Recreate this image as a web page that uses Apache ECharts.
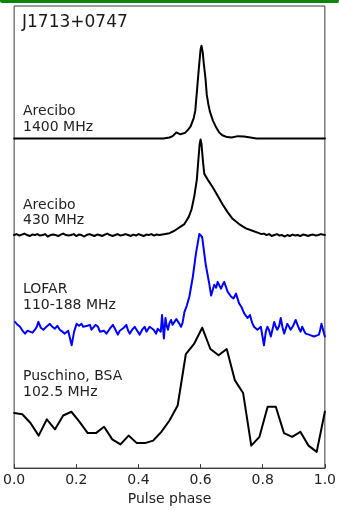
<!DOCTYPE html>
<html>
<head>
<meta charset="utf-8">
<script src="https://cdn.jsdelivr.net/npm/echarts@6/dist/echarts.min.js"></script>
<style>
  html, body { margin: 0; padding: 0; background: #ffffff; }
  #chart { width: 339px; height: 511px; }
</style>
</head>
<body>
<div id="chart"></div>
<script>
// Pulse profiles of PSR J1713+0747 at four frequencies.
// Each profile: [pulse phase, relative intensity (peak = 1)].

const xTicks = [0.0, 0.2, 0.4, 0.6, 0.8, 1.0];

const arecibo1400 = [
  [0.00, 0.00], [0.10, 0.00], [0.20, 0.00], [0.30, 0.00], [0.40, 0.00], [0.48, 0.00],
  [0.50, 0.01], [0.51, 0.025], [0.522, 0.065], [0.535, 0.045], [0.55, 0.06], [0.56, 0.095],
  [0.568, 0.13], [0.578, 0.22], [0.583, 0.30], [0.59, 0.58], [0.595, 0.78], [0.60, 0.96],
  [0.603, 1.00], [0.607, 0.93], [0.61, 0.82], [0.616, 0.64], [0.62, 0.47], [0.625, 0.37],
  [0.63, 0.29], [0.64, 0.19], [0.65, 0.12], [0.66, 0.065], [0.67, 0.035], [0.685, 0.015],
  [0.70, 0.01], [0.72, 0.025], [0.74, 0.02], [0.76, 0.01], [0.78, 0.00], [0.90, 0.00], [1.00, 0.00]
];

const arecibo430 = [
  [0.000, 0.00], [0.008, 0.01], [0.017, -0.005], [0.025, 0.005], [0.033, 0.015], [0.042, 0.00],
  [0.050, -0.01], [0.058, 0.005], [0.067, 0.00], [0.075, 0.01], [0.083, -0.005], [0.092, 0.00],
  [0.100, 0.01], [0.108, -0.015], [0.117, 0.00], [0.125, 0.005], [0.133, 0.00], [0.142, -0.01],
  [0.150, 0.005], [0.158, 0.015], [0.167, 0.00], [0.175, -0.005], [0.183, 0.00], [0.192, 0.01],
  [0.200, -0.01], [0.208, 0.005], [0.217, 0.00], [0.225, -0.015], [0.233, 0.00], [0.242, 0.01],
  [0.250, 0.00], [0.258, -0.01], [0.267, 0.005], [0.275, 0.00], [0.283, -0.01], [0.292, 0.005],
  [0.300, 0.015], [0.308, 0.00], [0.317, -0.01], [0.325, 0.00], [0.333, 0.01], [0.342, -0.005],
  [0.350, 0.00], [0.358, 0.01], [0.367, 0.00], [0.375, -0.01], [0.383, 0.005], [0.392, -0.005],
  [0.400, 0.01], [0.408, 0.00], [0.417, -0.01], [0.425, 0.005], [0.433, 0.00], [0.442, 0.01],
  [0.450, -0.005], [0.458, 0.005], [0.468, 0.00],
  [0.50, 0.02], [0.516, 0.045], [0.532, 0.08], [0.548, 0.115], [0.562, 0.19], [0.571, 0.27],
  [0.58, 0.41], [0.588, 0.58], [0.593, 0.79], [0.597, 0.95], [0.60, 1.00], [0.603, 0.95],
  [0.608, 0.76], [0.612, 0.64], [0.623, 0.58], [0.639, 0.50], [0.655, 0.41], [0.671, 0.32],
  [0.687, 0.24], [0.703, 0.17], [0.724, 0.115], [0.746, 0.07], [0.767, 0.045], [0.788, 0.02],
  [0.796, 0.01], [0.804, 0.015], [0.812, 0.00], [0.821, 0.01], [0.829, -0.01], [0.837, 0.00],
  [0.846, 0.01], [0.854, -0.005], [0.862, 0.00], [0.871, -0.015], [0.879, 0.00], [0.887, -0.01],
  [0.896, 0.005], [0.904, -0.005], [0.912, 0.00], [0.921, -0.01], [0.929, 0.005], [0.937, 0.00],
  [0.946, -0.01], [0.954, 0.00], [0.962, 0.005], [0.971, -0.005], [0.979, 0.00], [0.987, 0.01],
  [1.000, 0.00]
];

const lofar = [
  [0.003, 0.10], [0.011, 0.07], [0.019, 0.05], [0.027, 0.01], [0.035, -0.02], [0.043, 0.01],
  [0.051, 0.00], [0.059, -0.01], [0.067, 0.02], [0.073, 0.05], [0.078, 0.10], [0.086, 0.04],
  [0.094, 0.02], [0.104, 0.05], [0.115, 0.08], [0.123, 0.05], [0.131, 0.03], [0.139, 0.06],
  [0.147, 0.02], [0.155, 0.00], [0.163, -0.02], [0.174, 0.01], [0.185, -0.14], [0.193, 0.00],
  [0.201, 0.08], [0.209, 0.06], [0.217, 0.08], [0.222, 0.05], [0.228, 0.03], [0.236, 0.06],
  [0.244, 0.07], [0.249, 0.02], [0.254, 0.03], [0.262, 0.07], [0.270, 0.05], [0.276, 0.00],
  [0.281, -0.02], [0.289, 0.01], [0.297, -0.02], [0.308, 0.03], [0.318, 0.07], [0.326, 0.02],
  [0.334, -0.03], [0.340, 0.01], [0.345, 0.02], [0.353, 0.04], [0.361, 0.07], [0.367, 0.01],
  [0.372, -0.02], [0.380, 0.02], [0.388, 0.05], [0.396, 0.01], [0.404, -0.03], [0.412, 0.02],
  [0.420, 0.05], [0.426, 0.00], [0.431, 0.02], [0.436, 0.05], [0.441, 0.07], [0.449, 0.02],
  [0.457, -0.02], [0.462, 0.03], [0.468, 0.05], [0.472, 0.00], [0.476, 0.17], [0.482, -0.07],
  [0.487, 0.14], [0.491, 0.06], [0.495, 0.02], [0.500, 0.09], [0.505, 0.12], [0.510, 0.07],
  [0.516, 0.10], [0.522, 0.13], [0.527, 0.15], [0.532, 0.08], [0.537, 0.05], [0.542, 0.09],
  [0.548, 0.20], [0.556, 0.27], [0.564, 0.36], [0.575, 0.56], [0.585, 0.80], [0.596, 1.00],
  [0.605, 0.97], [0.617, 0.68], [0.628, 0.49], [0.634, 0.37], [0.644, 0.48], [0.650, 0.45],
  [0.655, 0.51], [0.661, 0.47], [0.666, 0.44], [0.671, 0.48], [0.676, 0.51], [0.687, 0.41],
  [0.698, 0.36], [0.706, 0.34], [0.714, 0.39], [0.724, 0.29], [0.732, 0.25], [0.740, 0.19],
  [0.751, 0.14], [0.759, 0.17], [0.766, 0.09], [0.772, 0.05], [0.778, 0.06], [0.783, 0.02],
  [0.794, 0.05], [0.804, -0.14], [0.810, 0.00], [0.815, 0.05], [0.821, 0.01], [0.826, -0.05],
  [0.832, 0.03], [0.837, 0.10], [0.842, 0.05], [0.847, 0.02], [0.853, 0.06], [0.858, 0.14],
  [0.864, 0.04], [0.869, -0.02], [0.874, 0.03], [0.879, 0.08], [0.885, 0.05], [0.890, 0.02],
  [0.898, 0.06], [0.906, 0.12], [0.912, 0.07], [0.917, 0.03], [0.922, 0.00], [0.927, 0.05],
  [0.933, 0.01], [0.938, -0.02], [0.944, -0.01], [0.949, -0.03], [0.957, -0.04], [0.965, -0.05],
  [0.973, -0.04], [0.981, -0.03], [0.985, 0.02], [0.989, 0.08], [0.995, 0.01], [1.000, -0.05]
];

// BSA profile: 39 bins evenly spread over one period
const puschino = [
  0.32, 0.31, 0.24, 0.14, 0.27, 0.19, 0.30, 0.33, 0.25, 0.16, 0.16, 0.21, 0.11,
  0.07, 0.14, 0.08, 0.08, 0.10, 0.17, 0.26, 0.38, 0.79, 0.87, 1.00, 0.83, 0.78,
  0.83, 0.58, 0.48, 0.06, 0.13, 0.37, 0.37, 0.16, 0.13, 0.17, 0.06, 0.01, 0.33
];

const profileLabels = [
  ['Arecibo', '1400 MHz'],
  ['Arecibo', '430 MHz'],
  ['LOFAR', '110-188 MHz'],
  ['Puschino, BSA', '102.5 MHz']
];

// Vertical stacking: baseline offset and height of each trace, in axis units
const stack = [
  { base: 331, height: 93, color: '#000000' },
  { base: 234, height: 96, color: '#000000' },
  { base: 137, height: 98, color: '#0000ff' },
  { base: 15,  height: 126, color: '#000000' }
];

const puschinoPairs = puschino.map((v, i) => [i / (puschino.length - 1), v]);
const profiles = [arecibo1400, arecibo430, lofar, puschinoPairs];

const chart = echarts.init(document.getElementById('chart'), null, { renderer: 'canvas' });

const FONT = 'DejaVu Sans';
const labelY = [[112, 128], [206, 221], [290, 306], [377, 393]];

const graphics = [
  { type: 'rect', shape: { x: 0, y: 0, width: 339, height: 3, r: [0, 0, 2, 2] },
    style: { fill: '#0d850d' }, z: 10 },
  { type: 'text', left: 22, top: 14,
    style: { text: 'J1713+0747', font: '17px "DejaVu Sans"', fill: '#1a1a1a' }, z: 10 }
];
profileLabels.forEach((lines, k) => {
  lines.forEach((t, j) => {
    graphics.push({
      type: 'text', left: 23, top: labelY[k][j] - 8,
      style: { text: t, font: '14px "DejaVu Sans"', fill: '#222222' }, z: 10
    });
  });
});

chart.setOption({
  animation: false,
  backgroundColor: '#ffffff',
  grid: {
    left: 14, right: 13, top: 6, bottom: 41,
    show: true, borderColor: '#3a3a3a', borderWidth: 1, backgroundColor: 'transparent'
  },
  xAxis: {
    type: 'value', min: 0, max: 1, interval: 0.2,
    name: 'Pulse phase', nameLocation: 'middle', nameGap: 22,
    nameTextStyle: { fontFamily: FONT, fontSize: 14, color: '#222222' },
    axisLine: { show: true, lineStyle: { color: '#3a3a3a', width: 1 } },
    axisTick: { show: true, inside: true, length: 4, lineStyle: { color: '#3a3a3a' } },
    axisLabel: {
      fontFamily: FONT, fontSize: 14, color: '#222222', margin: 5,
      formatter: v => xTicks.includes(+v.toFixed(1)) ? v.toFixed(1) : ''
    },
    splitLine: { show: false }
  },
  yAxis: {
    type: 'value', min: 0, max: 464,
    show: false, splitLine: { show: false }
  },
  graphic: graphics,
  series: profiles.map((prof, k) => ({
    type: 'line',
    data: prof.map(([p, v]) => [p, stack[k].base + stack[k].height * v]),
    showSymbol: false,
    smooth: false,
    clip: true,
    lineStyle: { color: stack[k].color, width: 2, join: 'round', cap: 'round' },
    z: 5
  }))
});
</script>
</body>
</html>
